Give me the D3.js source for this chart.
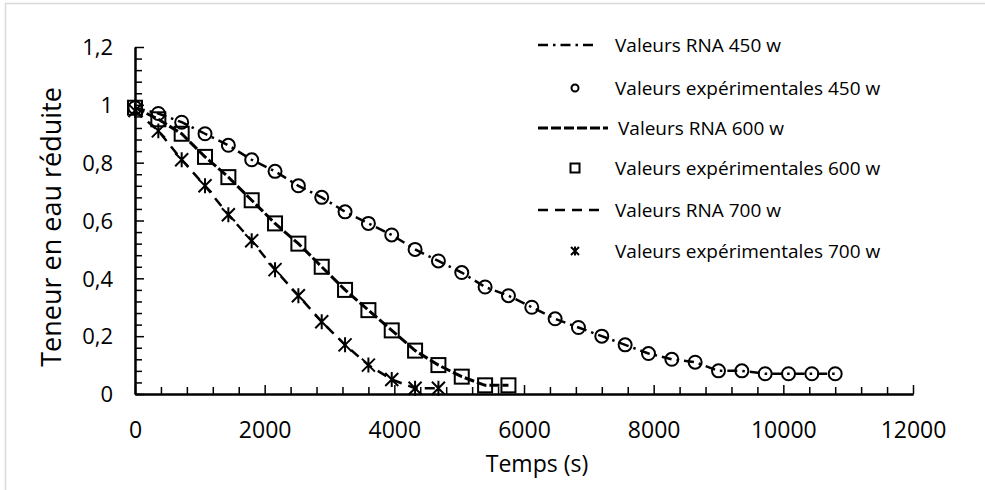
<!DOCTYPE html>
<html>
<head>
<meta charset="utf-8">
<script src="https://cdn.jsdelivr.net/npm/d3@7"></script>
<style>
  body { margin: 0; background: #fff; }
  text { font-family: "Open Sans", sans-serif; fill: #000; }
</style>
</head>
<body>
<svg id="chart" width="985" height="490"></svg>
<script>
// temps (s) des mesures
const times = [0, 360, 720, 1080, 1440, 1800, 2160, 2520, 2880, 3240, 3600, 3960, 4320, 4680, 5040,
  5400, 5760, 6120, 6480, 6840, 7200, 7560, 7920, 8280, 8640, 9000, 9360, 9720, 10080, 10440, 10800];

// 450 w
const exp450 = [0.99, 0.97, 0.94, 0.90, 0.86, 0.81, 0.77, 0.72, 0.68, 0.63, 0.59, 0.55, 0.50, 0.46, 0.42,
  0.37, 0.34, 0.30, 0.26, 0.23, 0.20, 0.17, 0.14, 0.12, 0.11, 0.08, 0.08, 0.07, 0.07, 0.07, 0.07];
const rna450 = [0.99, 0.97, 0.94, 0.90, 0.86, 0.81, 0.77, 0.72, 0.68, 0.63, 0.59, 0.55, 0.50, 0.46, 0.42,
  0.37, 0.34, 0.30, 0.26, 0.23, 0.20, 0.17, 0.14, 0.12, 0.11, 0.08, 0.08, 0.07, 0.07, 0.07, 0.07];

// 600 w
const exp600 = [0.99, 0.95, 0.90, 0.82, 0.75, 0.67, 0.59, 0.52, 0.44, 0.36, 0.29, 0.22, 0.15, 0.10, 0.06, 0.03, 0.03];
const rna600 = [0.99, 0.95, 0.90, 0.82, 0.75, 0.67, 0.59, 0.52, 0.44, 0.36, 0.29, 0.22, 0.15, 0.10, 0.06, 0.03, 0.03];

// 700 w
const exp700 = [0.98, 0.91, 0.81, 0.72, 0.62, 0.53, 0.43, 0.34, 0.25, 0.17, 0.10, 0.05, 0.02, 0.02];
const rna700 = [0.98, 0.91, 0.81, 0.72, 0.62, 0.53, 0.43, 0.34, 0.25, 0.17, 0.10, 0.05, 0.02, 0.02];

const xMajor = [0, 2000, 4000, 6000, 8000, 10000, 12000];
const yMajor = [0, 0.2, 0.4, 0.6, 0.8, 1, 1.2];

const legendLabels = [
  "Valeurs RNA 450 w",
  "Valeurs expérimentales 450 w",
  "Valeurs RNA 600 w",
  "Valeurs expérimentales 600 w",
  "Valeurs RNA 700 w",
  "Valeurs expérimentales 700 w"
];

const svg = d3.select("#chart");

// cadre gris clair
svg.append("rect")
  .attr("x", 5.5).attr("y", 3.5)
  .attr("width", 1000).attr("height", 500)
  .attr("fill", "none").attr("stroke", "#d9d9d9").attr("stroke-width", 1.5);

const xScale = d3.scaleLinear().domain([0, 12000]).range([135, 913]);
const yScale = d3.scaleLinear().domain([0, 1.2]).range([394, 47]);

const xMinor = d3.range(0, 12001, 400).filter(v => v % 2000 !== 0);
const yMinor = d3.range(0, 1.2001, 0.04).filter(v => Math.abs(v / 0.2 - Math.round(v / 0.2)) > 1e-6);

// axe x
const gx = svg.append("g").attr("transform", "translate(0," + yScale(0) + ")");
gx.call(d3.axisBottom(xScale).tickValues(xMinor).tickSize(-7).tickSizeOuter(0).tickFormat(""));
gx.append("g").call(d3.axisBottom(xScale).tickValues(xMajor).tickSize(-9).tickSizeOuter(0).tickFormat(d => d));
gx.selectAll("path.domain").attr("stroke", "#000").attr("stroke-width", 2);
gx.selectAll(".tick line").attr("stroke", "#000").attr("stroke-width", 1.5);
gx.selectAll(".tick text")
  .attr("y", 44).attr("dy", 0)
  .style("font-size", "23px");

// axe y
const gy = svg.append("g").attr("transform", "translate(" + xScale(0) + ",0)");
gy.call(d3.axisLeft(yScale).tickValues(yMinor).tickSize(-7).tickSizeOuter(0).tickFormat(""));
gy.append("g").call(d3.axisLeft(yScale).tickValues(yMajor).tickSize(-9).tickSizeOuter(0)
  .tickFormat(d => String(+d.toFixed(1)).replace(".", ",")));
gy.selectAll("path.domain").attr("stroke", "#000").attr("stroke-width", 2);
gy.selectAll(".tick line").attr("stroke", "#000").attr("stroke-width", 1.5);
gy.selectAll(".tick text")
  .attr("x", -22).attr("dy", "0.35em")
  .style("font-size", "22px");

// titres des axes
svg.append("text")
  .attr("x", 537).attr("y", 472)
  .attr("text-anchor", "middle")
  .style("font-size", "23px")
  .text("Temps (s)");

svg.append("text")
  .attr("transform", "translate(61,227) rotate(-90)")
  .attr("text-anchor", "middle")
  .style("font-size", "27px")
  .text("Teneur en eau réduite");

// styles des séries
const styles = {
  rna450: { dash: "10,5,2.5,5", width: 2.5 },
  rna600: { dash: "10,3", width: 3 },
  rna700: { dash: "10,7", width: 2.5 }
};

const line = d3.line()
  .x((d, i) => xScale(times[i]))
  .y(d => yScale(d));

function drawLine(values, st) {
  svg.append("path")
    .datum(values)
    .attr("d", line)
    .attr("fill", "none")
    .attr("stroke", "#000")
    .attr("stroke-width", st.width)
    .attr("stroke-dasharray", st.dash);
}

drawLine(rna450, styles.rna450);
drawLine(rna600, styles.rna600);
drawLine(rna700, styles.rna700);

// marqueurs
function starPath(s) {
  const h = s / 2;
  return "M" + (-h) + "," + (-h) + "L" + h + "," + h +
    "M" + (-h) + "," + h + "L" + h + "," + (-h) +
    "M0," + (-h * 1.15) + "L0," + (h * 1.15);
}

function drawMarkers(values, kind, size) {
  const g = svg.append("g");
  const sel = g.selectAll(".m").data(values).join("g")
    .attr("transform", (d, i) => "translate(" + xScale(times[i]) + "," + yScale(d) + ")");
  appendMarker(sel, kind, size);
}

function appendMarker(sel, kind, size) {
  if (kind === "circle") {
    sel.append("circle").attr("r", size / 2)
      .attr("fill", "none").attr("stroke", "#000").attr("stroke-width", 2);
  } else if (kind === "square") {
    sel.append("rect").attr("x", -size / 2).attr("y", -size / 2)
      .attr("width", size).attr("height", size)
      .attr("fill", "none").attr("stroke", "#000").attr("stroke-width", 2);
  } else {
    sel.append("path").attr("d", starPath(size))
      .attr("fill", "none").attr("stroke", "#000").attr("stroke-width", 2);
  }
}

drawMarkers(exp450, "circle", 13);
drawMarkers(exp600, "square", 14);
drawMarkers(exp700, "star", 13);

// légende
const legendRows = [
  { type: "line", st: styles.rna450, x2: 597, base: 52 },
  { type: "circle", size: 7, base: 95 },
  { type: "line", st: styles.rna600, x2: 608, base: 135 },
  { type: "square", size: 9, base: 175 },
  { type: "line", st: styles.rna700, x2: 602, base: 217 },
  { type: "star", size: 8, base: 258 }
];

legendRows.forEach((r, i) => {
  const cy = r.base - 7;
  if (r.type === "line") {
    svg.append("line")
      .attr("x1", 538).attr("x2", r.x2)
      .attr("y1", cy).attr("y2", cy)
      .attr("stroke", "#000")
      .attr("stroke-width", r.st.width)
      .attr("stroke-dasharray", r.st.dash);
  } else {
    const g = svg.append("g").attr("transform", "translate(575," + cy + ")");
    appendMarker(g, r.type, r.size);
  }
  svg.append("text")
    .attr("x", i === 2 ? 618 : 615)
    .attr("y", r.base)
    .style("font-size", "19px")
    .text(legendLabels[i]);
});
</script>
</body>
</html>
